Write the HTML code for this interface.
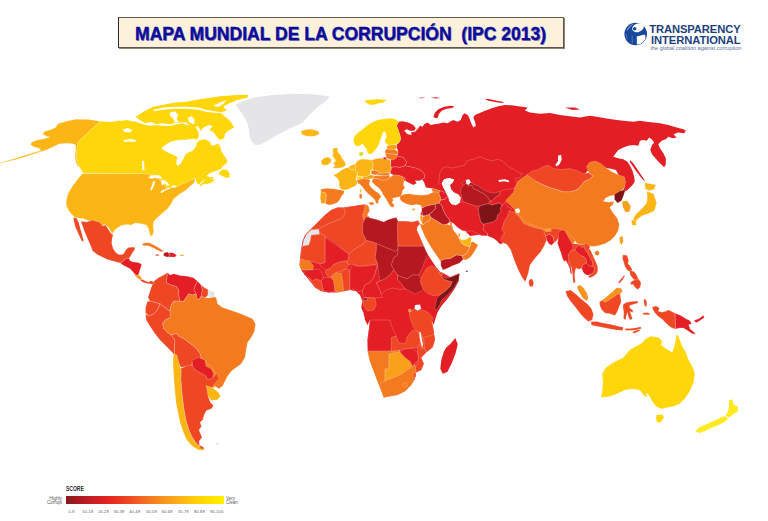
<!DOCTYPE html>
<html><head><meta charset="utf-8"><title>Mapa Mundial de la Corrupción (IPC 2013)</title>
<style>
html,body{margin:0;padding:0;background:#fff;}
body{width:768px;height:521px;position:relative;overflow:hidden;font-family:"Liberation Sans",sans-serif;}
#map{position:absolute;left:0;top:0;}
.b{stroke:#fff;stroke-opacity:.38;stroke-width:.5;stroke-linejoin:round}
#title{position:absolute;left:117.6px;top:17.3px;width:444px;height:28.6px;border:1px solid #5f574e;border-left-color:#2c2a28;background:#FDF1DB;box-shadow:1px 1px 0 #8a8378;}
#title span{position:absolute;left:0;right:0;top:6.1px;text-align:center;font-weight:bold;font-size:17.55px;line-height:20px;color:#0B0B9C;white-space:pre;text-shadow:.8px .8px 0 #8585b0;-webkit-text-stroke:.3px #0B0B9C;}
#logo{position:absolute;left:0;top:0;}
.lt{position:absolute;font-weight:bold;color:#1D3F7C;white-space:nowrap;transform-origin:0 0;line-height:1;}
#lg{position:absolute;left:66px;top:495.5px;width:157.6px;height:8.4px;background:linear-gradient(90deg,#8A191C 0%,#A81B20 8%,#C91F25 17%,#E2231F 26%,#EC3D22 36%,#F15A22 45%,#F47B20 54%,#F8981D 63%,#FBB117 72%,#FFCB08 81%,#FFDF00 90%,#FFF000 100%);}
.sm{position:absolute;color:#5a5a62;white-space:nowrap;line-height:1;font-size:4.5px;}
.tk{position:absolute;top:509.8px;width:20px;margin-left:-10px;text-align:center;color:#5c6274;font-size:4.3px;line-height:1;white-space:nowrap;}
</style></head><body>
<svg id="map" width="768" height="521" viewBox="0 0 768 521">
<polygon fill="#F47A20" points="200,355 214,362 219,378 214,388 205,382"/>
<polygon fill="#E31E24" points="455,178 520,168 532,198 518,216 500,232 470,236 450,215"/>
<polygon fill="#E31E24" points="505,165 535,165 535,190 510,190"/>
<polygon fill="#E31E24" points="493.3,211.7 516.7,211.7 510.8,231.7 503,242.5 493.3,236.7"/>
<polygon fill="#F47A20" points="513.3,209.2 530,216.7 553.3,225 566.7,225 580,233.3 573.3,243.7 563.3,240 553.3,235.8 543.3,235.8 530,231.7 520,225"/>
<polygon fill="#EF4623" points="560,233.3 572.5,243.7 585,244.7 590.3,250 595,260 595.8,270 591.7,274.2 586.7,275 580,266.7 573.3,266.7 570,266.7 561.7,255 558,243.3"/>
<polygon fill="#E31E24" points="302.5,241.2 305,235 310,230 315,225 320,220 325,215 331.2,210 337.5,207.5 343.8,207.5 352.5,206.2 360,205 365,204.5 368,205.5 369.5,210.5 367,215 370,218 376.2,219.5 383.8,222 388.8,219.5 396.2,217.5 398,221.2 405,221.2 412.5,222 418,220.5 420,223.8 417.5,226.2 416.8,230 419.8,236.8 422.5,243.2 425.8,250.8 429.2,256.8 432.5,261.8 435.8,266.8 440,271.8 443,273 450,277 459.2,273.2 458.8,281.2 453.8,290 447.5,298.8 441.2,306.2 437.5,312.5 435,320 433.8,325 431.2,320 432.5,325 433.8,332.5 435,340 432.5,347.5 426.2,352.5 421.2,357.5 423.8,363.8 421.2,370 416.2,372.5 415,378.8 411.2,385 405,391.2 397.5,395 390,396.2 383.8,397.5 380,387.5 377.5,380 373.8,370 370,360 368,350 367.5,340 368.8,330 370,320 367.5,325 365,320 363.8,313.8 361.2,307.5 362.5,301.2 360,295 356.2,291.2 350,290 343.8,291.2 336.2,292.5 328.8,292.5 321.2,291.2 315,287.5 310,281.2 305,275 301.2,270 299.5,265 300,257.5 301.2,248.8"/>
<polygon fill="#E31E24" points="398.3,122.5 396.7,125.8 398.3,130 400,135 400.8,139.2 399.2,142.5 396.7,144.7 397,148 398.3,151.7 397.5,154.7 396.7,155.8 403.3,157.5 406.7,161.7 405,165.8 410,166.7 416.7,168.3 421.7,170.8 425,175 424.2,178.3 419.2,180.8 419.2,178.3 422.5,179.7 424.2,182.5 425.8,187.5 431.3,188.3 435.8,189.2 440,190.8 445.8,192.5 445.8,191.7 443.3,187.5 441.7,183.3 444.2,179.2 449.2,178 454.2,179.7 452.5,182.5 450,185 450.8,189.2 454.2,192.5 457.5,193.3 460.8,189.2 463.3,185 461.7,183.3 465.8,180.8 470,181.3 473.3,184.2 478.3,185.8 483.3,189.7 490,192.5 495,193 499.2,191.7 503.3,190 510,189.2 515,188 517.5,183.8 515,178.8 520,177.5 522.5,172.5 527.5,176.2 535,178.8 543.8,178.8 550,180 555,180 565,181.2 575,180 585,175 586,172.5 588.5,170 596,170 603.5,167.5 611,168.8 616,170 618.5,175 622.2,181.2 624.8,183.8 624,188.8 621,192 623.3,192.5 627.5,190 630,187.5 632.5,185 634.7,181.7 634.2,176.7 632.5,170.8 630,165.8 627.5,161.7 623.3,159.2 618.3,158.3 613.3,156.7 615,154.2 618.3,150 623.3,147.5 628.3,145.8 633.3,145 638.3,145.8 640,140.8 643.3,140 646.7,140.8 649.2,137.5 651.7,139.2 654.2,142.5 652,145 650.3,149.7 652,154.2 656.3,159.2 660,163.3 664.2,167.3 665.8,164.2 665.8,158.3 663.3,153.3 660,148.3 658.3,144.2 661.7,140.8 665.8,139.2 668.3,136.7 672.5,138.3 676.7,137.5 673.3,134.2 678.3,132.5 684.2,133.3 685.8,130.8 683.3,129.2 676.7,127.5 668.3,125 660,123.3 653.3,122.5 646.7,121.7 640,120.8 633.3,121.7 623.3,120.8 615,119.7 605,118.3 596.7,116.7 590,115.8 580,117.5 570,116.2 560,115 550,113 540,113.8 530,112.5 525,110.5 527.5,107.5 518.3,106.3 511.7,105.3 505,105 498.3,106.3 491.7,108.3 485,110.8 479.2,113.3 475,115 473.3,117.5 475,121.7 475.8,125.8 473.3,127.5 471.7,124.2 470,120 468.3,115.8 465,113.3 462.5,115 460.8,120 457.5,121.7 453.3,120 450,121.7 447.5,123.3 443.3,122.5 438.3,123.7 434.2,124.2 430.8,125 427.5,122.5 424.2,124.2 422.5,126.7 420,125.8 418.3,128.3 415,131.7 410.8,132.5 411.7,135 407.5,134.2 404.2,130.8 406.7,129.2 410,130.8 414.2,130.8 415.8,128.3 413.3,125 408.3,122.5 402.5,121.3 398.3,121.7"/>
<polygon class="b" fill="#F47A20" points="503.2,197 508.4,193.8 513.7,189.6 515.8,185.4 517.9,181.2 522.2,178 527,174.8 531.7,178 535.9,181.2 542.2,184.3 549.6,187.5 557,189.6 563.3,191.7 570.7,191.7 577,189.6 581.3,185.4 584.4,181.2 589.7,179.1 592.9,175.9 588.7,172.7 586.5,166.4 589.7,162.2 595,161.1 600.3,163.2 605.5,167.4 611.9,171.7 618.2,174.8 624.5,176.9 625.6,182.2 624.5,187.5 620.3,191.7 615,194.9 609.8,195.9 605.5,198 603.4,201.2 608.7,202.3 614,201.2 612.9,204.4 609.8,207.5 612.9,212.8 617.2,218.1 619.3,224.4 618.2,230.8 615,236 610.8,240.3 605.5,243.4 599.2,245.5 592.9,246.6 586.5,245.5 581.3,244.5 577,243.4 573.9,239.2 570.7,235 567.5,231.8 563.3,232.9 559.1,229.7 552.8,230.8 546.4,229.7 540.1,227.6 533.8,225.5 527.4,223.4 523.2,219.2 519,214.9 515.8,210.7 512.7,207.5 508.4,203.3 504.2,200.2"/>
<polygon class="b" fill="#FFD60A" points="83.2,173.2 81.8,170.8 79.2,166.8 77,161.8 76.2,155 77,148.2 78.2,141.8 100,121.2 110,122 120,120.5 120,120.8 126.7,120 135.8,121.7 143.3,124.2 150,125.8 156.7,125 163.3,125.8 170,125.8 176.7,124.2 183.3,123.3 186.7,125 191.7,124.2 195.8,127.5 198.3,131.7 199.2,135.8 197,139.7 193.3,138.7 186.7,139.7 178.3,140 170,142 164.2,145.8 161.7,148.3 163.3,150 168.3,152.5 173.3,155 177.5,156.7 176.7,160 176.3,164.2 178.3,165.8 180.8,163.3 183.3,159.2 185,155 188.3,152.5 192.5,150.8 195.8,146.7 196.7,142.5 200,140 205,139.2 210,141.7 211.7,145.8 215,145 217.5,143.3 220,145.8 221.7,151.7 225,156.7 227.5,160.8 226.7,163.3 223.3,165.8 220.8,169.2 216.7,170.8 211.7,172.5 206.7,174.7 201.7,176.7 206.7,175.8 210.8,177.5 208.3,180 203.3,180.8 199.2,180 196.7,178 191.7,179.7 186.7,182 180,185 175,187.5 170,188.3 165.8,187.5 163.3,183.3 160.8,180 155,177.5 147.5,173.7 130,173.7 83.2,173.2"/>
<polygon class="b" fill="#FFD60A" points="204.2,181.7 208.3,180.8 213.3,179.2 215,180 211.7,182.5 206.7,184.2 203.3,183.3"/>
<polygon class="b" fill="#FFD60A" points="219.2,171.7 223.3,169.2 227.5,170 230,174.2 229.2,178 225,177.5 221.7,175.8 219.2,174.7"/>
<polygon fill="#FFD60A" points="135.8,116.7 143.3,111.7 153.3,106.7 163.3,104.7 175,102.5 186.7,101.7 195,100 206.7,98.3 220,96.3 233.3,95.3 247.8,94.7 247.8,97.5 236.7,100.3 228.3,103.7 223.3,106.7 226.7,110.8 220,112.5 225,116.7 230,120.8 234.2,127.5 229.2,130 225,133.7 224.2,138.3 220,140 216.7,136.7 213.3,131.7 208.3,130 203.3,133.3 200,130 198.3,125.8 193.3,128.3 190,125.8 186.7,122.5 177.5,122.5 170,124.2 161.7,123.3 155.8,124.2 151.7,122 145,123 140,120.3"/>
<polygon fill="#E5E5E8" points="235.8,104.5 244.5,100.5 254.5,97.5 272,95 292,93.8 312,94.2 329.5,96.2 325.8,101.2 319.5,105.5 313.2,111.2 308.2,116.2 303.2,122 297,125.5 290.8,128 282,132.5 274.5,136.2 267,141.2 260.8,144.5 255,145 251.5,141.2 249.5,136.2 249,130 247.5,123.8 245,118 241.5,113 238.2,108.8"/>
<polygon fill="#FFD60A" points="190,133.7 195,132.5 198,135 195.8,138.7 191.7,138"/>
<polygon fill="#FFD60A" points="195.4,178.7 198.3,176.1 201.9,173.7 205.5,172.2 209.1,173 207.7,175.1 204.8,177 203.4,179.4 201.2,182.3 198.7,184.8 196.9,183"/>
<polygon fill="#FFD60A" points="199.8,186.6 203.4,184.2 207.7,181.9 212,179.4 213.7,177.6 212,177 209.1,178.4 205.5,180.2 202.6,181.9 200.2,184.5"/>
<polygon class="b" fill="#EF4623" points="320,220 325,215 331.2,210 337.5,207.5 343.8,207.5 345.5,213.8 341.2,218.8 335,221.2 328.8,223.8 323.8,226.2 318.8,228.8 311.2,230 306.2,235 305,235 310,230 315,225"/>
<polygon class="b" fill="#E5E5E8" points="318.8,229.2 319.5,234.5 311.2,235 310.5,240 308.8,245 302.5,246.2 303.8,240 306.2,235 311.2,230"/>
<polygon class="b" fill="#EF4623" points="343.8,207.5 352.5,206.2 360,205 365,204.5 364.5,210 362.5,215 364,220 362.5,224 362.8,233.2 366.5,240.5 363.8,243.8 355,248.8 348.8,253.8 343.8,250 335,242.5 325,236.2 319.5,232.5 318.8,228.8 323.8,226.2 328.8,223.8 335,221.2 341.2,218.8 345.5,213.8"/>
<polygon class="b" fill="#F47A20" points="365,204.5 368,205.5 369.5,210.5 367,214.5 368,217 365.5,218.2 364,220 362.5,215 364.5,210"/>
<polygon class="b" fill="#B5181E" points="366.5,217 370,218 376.2,219.5 383.8,222 388.8,219.5 396.2,217.5 398,221.2 397.5,227.5 398,245 398,248.8 395.5,251.5 372.8,242.2 366.5,240.5 362.8,233.2 362.5,224 365.5,217.8"/>
<polygon class="b" fill="#EF4623" points="398,221.2 405,221.2 412.5,222 418,220.5 420,223.8 417.5,226.2 416.8,230 419.8,236.8 422.5,243.2 424,246.2 398,246.2 397.5,227.5"/>
<polygon class="b" fill="#B5181E" points="398,246.2 424,246.2 425.8,250.8 428,255 426.2,257.5 423.8,263.8 421.2,270 418.8,275 412.5,275 407.5,278.8 402.5,277.5 397.5,275 393.8,270 391.2,265 393.8,257.5 397.5,255 398,248.8"/>
<polygon class="b" fill="#B5181E" points="397.5,275 402.5,277.5 407.5,278.8 412.5,275 418.8,275 422.5,281.2 426.2,286.2 421.2,291.2 415,293.8 410,291.2 405,288.8 401.2,283.8 397.5,280"/>
<polygon class="b" fill="#B5181E" points="376.2,243.5 395.5,251.5 398,248.8 397.5,255 393.8,257.5 391.2,265 393.8,270 390,275 385,278.8 380,281.2 376.2,282.5 373.8,277.5 376.2,270 377.5,263.8 375,257.5 376.2,250"/>
<polygon class="b" fill="#EF4623" points="348.8,253.8 355,248.8 363.8,243.8 366.5,240.5 372.8,242.2 376.2,243.5 376.2,250 375,257.5 377.5,263.8 372.5,265 365,266.2 357.5,266.2 352.5,263.8 348.8,265 346.2,261.2 348.8,257.5"/>
<polygon class="b" fill="#E31E24" points="325,237.5 343.8,250.5 348.8,254.2 348,260.5 340,262 333.8,264.5 330,268.8 326.2,270 322.5,268 319.5,263.8 325,262.5"/>
<polygon class="b" fill="#EF4623" points="302.5,246.2 308.8,245 310.5,240 311.2,235 319.5,234.5 319.5,232.5 325,236.2 325,262.5 319.5,263.8 315,262.5 310,261.2 305,260.5 300.5,258.8 301.2,251.2"/>
<polygon class="b" fill="#F47A20" points="300.5,258.8 305,260.5 310,261.2 313.8,266.2 312.5,270 306.2,270 301.2,270 299.5,265"/>
<polygon class="b" fill="#E31E24" points="306.2,270 312.5,270 317.5,268.8 321.2,271.2 323.8,277.5 321.2,281.2 316.2,278.8 312.5,281.2 308.8,277.5 303.8,274.5"/>
<polygon class="b" fill="#EF4623" points="308.8,277.5 312.5,281.2 316.2,278.8 321.2,281.2 322.5,286.2 323.8,291.2 318.8,289.5 313.8,285 310,281.2"/>
<polygon class="b" fill="#E31E24" points="321.2,281.2 323.8,277.5 331.2,277.5 333.8,281.2 335,291.2 328.8,292.5 323.8,291.2 322.5,286.2"/>
<polygon class="b" fill="#EF4623" points="326.2,270 330,268.8 333.8,264.5 340,262 346.2,261.2 348.8,265 346.2,268.8 341.2,271.2 336.2,272.5 332.5,275 331.2,277.5 327.5,276.2 325,272.5"/>
<polygon class="b" fill="#F47A20" points="332.5,275 336.2,272.5 341.2,273 342.5,280 343.8,290 338.8,292.5 335,291.2 333.8,281.2 331.2,277.5"/>
<polygon class="b" fill="#EF4623" points="341.2,271.2 346.2,268.8 350,270 350,277.5 349.5,290 343.8,291.2 342.5,280 341.2,273"/>
<polygon class="b" fill="#E31E24" points="350,270 352.5,264.5 357.5,266.2 365,266.2 372.5,265 377.5,265 376.2,270 373.8,277.5 370,282.5 365,285 362.5,291.2 356.2,291.2 352.5,288.8 349.5,290 350,277.5"/>
<polygon class="b" fill="#E31E24" points="376.2,270 377.5,265 380,281.2 376.2,282.5 378.8,287.5 381.2,293.8 382.5,297.5 375,298 365,297.5 362.5,295 362.5,291.2 365,285 370,282.5 373.8,277.5"/>
<polygon class="b" fill="#E31E24" points="376.2,282.5 380,281.2 385,278.8 390,275 393.8,270 397.5,275 397.5,280 401.2,283.8 405,288.8 400,289.5 392.5,288 386.2,290 381.2,293.8 378.8,287.5"/>
<polygon class="b" fill="#EF4623" points="365,297.5 375,298 376.2,305 373.8,310 367.5,311.2 363.8,306.2 362.5,301.2"/>
<polygon class="b" fill="#B5181E" points="363.2,298 367.5,298 367.5,300.5 363.2,300.5"/>
<polygon class="b" fill="#E31E24" points="370,320 390,320 391.2,325 396.2,336.2 392.5,337.5 391.2,351.2 367.5,351.2 367.5,340 368.8,330"/>
<polygon class="b" fill="#F47A20" points="368,351.2 391.2,351.2 400,350 400,352 388.8,353.8 388.8,368.8 385,368.8 385,381.2 381.2,382.5 380,388 377,380.5 373.2,370.5 369.5,360.5 367.5,351.2"/>
<polygon class="b" fill="#F9A11B" points="388.8,353.8 400,352 405,357.5 410,361.2 412.5,366.2 407.5,370 402.5,373.8 397.5,376.2 391.2,378.8 385,381.2 385,368.8 388.8,368.8"/>
<polygon class="b" fill="#E31E24" points="400,352 405,348.8 412.5,348 417.5,352.5 418.8,358.8 415,363.8 412.5,366.2 410,361.2 405,357.5"/>
<polygon class="b" fill="#EF4623" points="391.2,337.5 396.2,336.2 398.8,342.5 405,343.8 407.5,336.2 412.5,330 417.5,331.2 421.2,336.2 420,343.8 417.5,347.5 412.5,348 405,348.8 400,350 391.2,351.2"/>
<polygon class="b" fill="#EF4623" points="418.8,333.8 422,332.5 423.8,340 424.5,347.5 422,348.8 420.5,342.5"/>
<polygon class="b" fill="#EF4623" points="417.5,347.5 420,343.8 422,348.8 424.5,347.5 426.2,352.5 421.2,357.5 423.8,363.8 421.2,370 416.2,372.5 415,367.5 418.8,358.8 417.5,352.5"/>
<polygon class="b" fill="#EF4623" points="422,332.5 432.5,325 433.8,332.5 435,340 432.5,347.5 426.2,352.5 424.5,347.5 423.8,340"/>
<polygon class="b" fill="#F47A20" points="381.2,382.5 385,381.2 391.2,378.8 397.5,376.2 402.5,373.8 407.5,370 412.5,366.2 415,363.8 416.2,372.5 415,378.8 411.2,385 405,391.2 397.5,395 390,396.2 383.8,397.5 380,387.5"/>
<polygon class="b" fill="#EF4623" points="413.2,373 415.8,373 415.8,377 413.2,377"/>
<polygon class="b" fill="#F47A20" points="400,195.8 404.2,194.2 408.3,193.8 415,194.7 421.7,195.3 428.3,194.5 432.5,192.5 435.8,190.8 438.3,192.5 440,195.8 440.8,200 439.2,203 435,204.2 430.8,205 425.8,206.3 421.7,208.3 420.8,205.3 416.7,204.5 411.7,205.3 406.7,204 402.5,202 400,199.2"/>
<polygon class="b" fill="#F47A20" points="396.7,190.8 400.8,190.3 402.5,192.5 399.2,194.2 396.7,193.3"/>
<polygon class="b" fill="#F9A11B" points="411.7,209.2 415,208.3 415.3,210 412.5,210.5"/>
<polygon class="b" fill="#B5181E" points="421.7,208.3 425.8,206.3 430.8,205 435,204.2 435.8,208.3 432.5,211.7 429.2,214.2 425.8,215.8 422.5,215.8 421.7,211.7"/>
<polygon class="b" fill="#E31E24" points="420.5,212.5 422.2,212 422.2,215.3 420.8,215.7"/>
<polygon class="b" fill="#B5181E" points="435,204.2 439.2,203 442,205.8 443.3,210 445.8,215 449.2,219.2 450,222 446.7,224.2 443.3,225 439.2,222.5 435,220 430.8,217.5 429.2,214.2 432.5,211.7 435.8,208.3"/>
<polygon class="b" fill="#F47A20" points="449.7,222.5 452,223 452,225.3 450,225"/>
<polygon class="b" fill="#F47A20" points="422.5,216.7 425.8,215.8 429.2,214.2 430.8,217.5 429.2,220.8 425.8,222.5 423.3,225 421.7,222.5"/>
<polygon class="b" fill="#F9A11B" points="420,215.8 422.2,215.8 422.5,217.5 422,220.8 421.3,223.3 420.3,220"/>
<polygon class="b" fill="#F47A20" points="419.7,223.3 423.3,225 425.8,222.5 429.2,220.8 430.8,217.5 435,220 439.2,222.5 443.3,225 446.7,224.2 450,225 452,225.3 453.3,230 456.7,234.2 459.2,238.3 461.7,243.3 465.8,245.8 470,246.7 468.3,250.8 465.8,254.2 462,255.8 456.7,255 450,258.7 444.2,259.2 440.8,260.8 440.8,261.7 437.5,256.7 433.3,250.8 429.2,244.2 425,236.7 421.7,229.2"/>
<polygon class="b" fill="#B5181E" points="440.8,260.8 444.2,259.2 450,258.7 456.7,255 462,255.8 463.3,259.2 459.2,263.3 452.5,265.8 447.5,268.3 443,270 440.8,265.8"/>
<polygon class="b" fill="#F47A20" points="462,255.8 465.8,254.2 468.3,250.8 470,246.7 470.8,242.5 473.3,241.7 478,245 475.8,249.2 473.3,253.3 470,257.5 465.8,260 463.3,259.2"/>
<polygon class="b" fill="#FBB615" points="459.2,238.3 462.5,240 466.7,239.2 470,236.7 471.3,238.3 470.8,242.5 470,246.7 465.8,245.8 461.7,243.3"/>
<polygon class="b" fill="#F9A11B" points="458,233.7 459.7,233 460.3,236.3 458.7,237.5"/>
<polygon class="b" fill="#EF4623" points="420,281.7 422.5,275 426.7,268.3 431.7,265.8 435.8,268.3 439.2,272.5 440.8,275 444.2,279.2 448.3,280.8 452.5,281.7 450,286.7 445.8,290.8 440,295 433.3,295.8 427.5,293.3 423.3,289.2"/>
<polygon class="b" fill="#7E1416" points="440.8,275 445.8,278.3 451.7,277 459.7,273.7 458.7,279.2 455.8,285 451.7,290.8 446.7,295.8 441.7,300 439.7,305 436.7,310.3 434.8,308.3 435.7,303.3 437,298.3 440,295 445.8,290.8 450,286.7 452.5,281.7 448.3,280.8 444.2,279.2"/>
<polygon class="b" fill="#EF4623" points="439.7,271.7 442,272.5 442.5,275 440.8,275.3 439.3,273.7"/>
<polygon fill="#7E1416" points="465.8,270.8 467.7,270.8 467.7,271.8 465.8,271.8"/>
<polygon class="b" fill="#EF4623" points="410,310.8 414.2,309.2 417.5,310.8 422.5,309.7 428.3,312.5 432.5,317.5 432,322.5 433.3,327.5 434.2,333.3 431.7,335.3 426.7,336.7 422.5,337.5 421.3,334.2 419.2,331.7 415.8,330 413.3,327.5 411.7,322.5 410,318.3 409.2,314.2"/>
<polygon fill="#E31E24" points="455.3,338 457.7,344.2 455.7,353 451.7,363.3 447.3,372 442.8,373.8 440.3,368.7 441.3,360 443.8,351.7 446.3,347.5 450.5,343.7 453.7,340"/>
<polygon class="b" fill="#F6921E" points="408.3,309.3 410.8,309 411.3,311.7 408.8,312.2"/>
<polygon class="b" fill="#F47A20" points="402.5,383.8 406.2,382.5 407.5,385.5 404,387.5"/>
<polygon class="b" fill="#FBB615" points="100,121.2 88.8,119.5 76.2,119.2 66.2,121.2 58,123.8 55.5,127.5 51.2,129.5 45,131.2 42.5,133.8 46.2,136.2 50,137 42.5,139.2 37.5,140 32,142 30.5,144.5 33.8,147 38.8,148 41.2,150.5 32.5,153 22.5,156 12.5,159.2 0,162.8 0,163.2 15,159.8 27.5,156 40,152 47.5,149.5 53.8,146.5 58.8,144 66.2,143.2 72.5,143.8 75.8,145 75.5,151.2 75,155.5 75.8,161.8 77.8,166.8 79,166.5 77,161.8 76.2,155 77,148.2 78.2,141.8"/>
<polygon class="b" fill="#FBB615" points="82.5,173.8 147.5,173.7 155,177.5 160.8,180 163.3,183.3 165.8,187.5 170,188.3 175,187.5 180,185 186.7,182 191.7,179.7 195.4,178.7 194,183 189.7,186.6 186.2,190 180,193.8 173.8,198.8 171.2,203.8 167.5,208.8 162.5,213 157.5,217.5 153.8,221.2 153.1,226.2 153.8,231.2 152.5,235.6 150.6,236.2 149.4,232.5 148.1,227.5 146.2,225 141.2,223.8 135,223 131.2,225 126.2,224.4 121.2,225.6 116.2,228.8 112.5,233 113.8,235 111.2,232.5 108.8,227.5 105,224.5 101.2,225.5 97.5,221.2 90,221.2 83.8,218.8 75,217.5 71.2,213.8 69,211 66.7,206.7 66.2,202.5 66.7,198.3 67.8,194.5 70,190 72.5,186 75.8,181.7 79,177.5"/>
<polygon class="b" fill="#EF4623" points="153.8,281.2 158.8,277.5 163.8,275 167.5,272.5 167,277.5 166.2,282.5 171.2,285 176.2,286.2 178.8,290 178.8,295 180,301.2 173.8,301.2 171.2,305 170,311.2 165,307.5 160,303.8 155,302.5 150,301.2 148,297.5 151.2,287.5"/>
<polygon class="b" fill="#E31E24" points="167.5,272.5 170,275 173.8,273.8 180,275.5 187.5,276.2 193.8,278 197.5,281.2 195.5,285 193.8,290 196.2,293.8 192.5,295 188.8,293.8 186.2,297.5 183.8,301.2 180,301.2 178.8,295 178.8,290 176.2,286.2 171.2,285 166.2,282.5 167,277.5"/>
<polygon class="b" fill="#E31E24" points="197.5,281.2 201.2,285 202.5,290 201.2,296.2 198.8,300 196.2,297.5 196.2,293.8 193.8,290 195.5,285"/>
<polygon class="b" fill="#EF4623" points="201.2,285 205,288 208,289.5 208,295 205,298 201.2,296.2 202.5,290"/>
<polygon class="b" fill="#E5E5E8" points="208,289.5 212.5,291.2 215,293 213.8,297 210,298 208,295"/>
<polygon class="b" fill="#F47A20" points="180,301.2 183.8,301.2 186.2,297.5 188.8,293.8 192.5,295 196.2,293.8 196.2,297.5 198.8,300 201.2,296.2 205,298 210,298 213.8,297 216.2,297.5 217.5,303.8 222.5,307.5 230,310 237.5,312.5 245,315.5 252.5,318.8 255.5,323.8 254.5,331.2 251.2,337.5 247.5,342.5 246.2,350 245,357.5 241.2,363.8 236.2,367.5 231.2,371.2 227.5,376.2 225,381.2 222.5,386.2 218.8,388.8 215,386.2 211.2,383.8 213.8,380 216.2,375 213.8,370 211.2,366.2 207.5,364.5 205,360 201.2,358.8 200,353.8 197.5,350 193.8,346.2 188.8,342.5 183.8,338.8 178.8,336.2 176.2,333.8 171.2,335 167.5,332.5 163.8,328.8 162.5,323.8 165,320 170,317.5 170,311.2 171.2,305 173.8,301.2"/>
<polygon class="b" fill="#EF4623" points="150,301.2 155,302.5 160,303.8 157.5,310 153.8,313.8 148.8,316.2 145.5,312.5 145.5,307.5 147.5,301.2"/>
<polygon class="b" fill="#EF4623" points="160,303.8 165,307.5 170,311.2 170,317.5 165,320 162.5,323.8 163.8,328.8 167.5,332.5 171.2,335 175,340 174.5,347.5 174.5,355 171.2,351.2 166.2,346.2 160,340 155,333.8 150,326.2 146.2,320 145.5,313.8 148.8,316.2 153.8,313.8 157.5,310"/>
<polygon class="b" fill="#EF4623" points="171.2,335 176.2,333.8 178.8,336.2 183.8,338.8 188.8,342.5 193.8,346.2 197.5,350 200,353.8 201.2,358.8 196.2,358.8 192.5,362.5 191.2,366.2 186.2,366.2 181.2,367.5 178.8,363.8 176.2,357.5 174.5,355 174.5,347.5 175,340"/>
<polygon class="b" fill="#E31E24" points="192.2,360 198.5,357.5 204.8,360 206,366.2 211,368.8 213.5,373.8 212.2,378.8 207.2,380 206,376.2 201,373.8 194.8,370 192.2,366.2"/>
<polygon class="b" fill="#FBB615" points="173.5,353.8 177,355 179.2,363.8 181.2,370 181,380 181.8,390 182.8,400 184.2,410 186,420 189,430 192.2,437 196,443 199.8,446.2 203.5,448 204,450.5 198,449.8 191.8,445.8 186.5,439.5 183,431.2 180,422.5 178,412.5 176,402.5 175,392.5 174.2,382.5 173.5,372.5 173,362.5"/>
<polygon class="b" fill="#EF4623" points="180.5,368.8 186,366 192.2,365 194.8,369.5 201,373.2 206,375.8 207.2,379.5 212.2,378.2 217.2,373.2 219,378.8 213.5,385 211,390 208.5,393 208.5,397.5 210.5,402.5 213.5,405.5 211.5,408.8 206.5,410.5 204,415 203,419.5 200,422.5 201.5,426.2 199,430 200.5,433.8 202,437.5 199,441.2 199.8,446.2 196,443 192.2,437 189,430 186,420 184.2,410 182.8,400 181.8,390 181,380 181.2,370"/>
<polygon class="b" fill="#EF4623" points="199,445 202.2,446.5 205,448.5 201,449"/>
<polygon class="b" fill="#FBB615" points="206,385.5 212.2,387.5 218.5,392.5 220.5,396.2 217.2,400 211.5,400.5 208,396.2 207.2,391.2"/>
<polygon class="b" fill="#EF4623" points="80.8,221.3 86.7,222 92.5,220.3 99.2,222 102.5,225.8 105.8,225.3 108.3,229.2 110.8,233.3 113,235 112,239.2 111.7,243.3 113,248.3 115.8,252.5 119.2,254.7 123.3,254.2 125.8,250 128.3,247.5 134.2,247 135,249.2 132.5,252.5 130.8,255.8 129.2,258.3 126.7,258.3 124.2,260 122.5,261.7 120.3,263 116.7,262 111.7,260.8 106.7,259.2 101.7,256.7 96.7,254.2 92.5,250.8 91.3,247.5 89.2,242.5 86.7,236.7 84.2,230.8 82.5,225.8"/>
<polygon class="b" fill="#EF4623" points="73.3,217.5 76.7,218.3 78.7,222.5 80.3,228.3 81.7,233.3 83.3,239.2 83.7,242 81.7,240.8 79.7,236.7 77.5,231.7 75.3,226.7 74,221.7"/>
<polygon class="b" fill="#E31E24" points="120.3,263 122.5,261.7 124.2,260 126.7,258.3 129.2,258.3 130,260.8 133.3,262 138.3,262.5 141.7,264.2 140.8,267.5 139.7,270.8 138.7,274.2 137,275.8 134.7,274.2 132.5,271.3 130,268.7 126.7,267 123.3,265.3"/>
<polygon class="b" fill="#F9A11B" points="134.7,274.2 137,275.8 138.7,274.2 140.8,276.7 142,279.2 140,280 137.5,278 135.3,276.3"/>
<polygon class="b" fill="#EF4623" points="140,280 142,279.2 145,280.8 148.3,282 151.3,280.8 153.3,281.7 155,283.7 152.5,284.2 149.2,283.7 145.8,283.3 142.5,282"/>
<polygon class="b" fill="#F47A20" points="141.7,244.5 145,242.8 149.2,242.7 153.3,244.7 157.5,247 161.7,249.7 164.2,251.3 160.8,251.7 156.7,249.7 152.5,247.5 148.3,245.8 144.2,245.8"/>
<polygon class="b" fill="#B5181E" points="163.7,253 167.5,252 169.2,253.7 169.2,256.7 166.7,257 163.7,255.8"/>
<polygon class="b" fill="#E31E24" points="169.2,252.5 173.3,253 176.7,255 175,257 169.2,257"/>
<polygon class="b" fill="#EF4623" points="155,254.7 158.3,254.2 159.7,255.3 156.7,256"/>
<polygon class="b" fill="#F9A11B" points="180.3,254.7 183.7,254.7 183.7,256 180.3,256"/>
<polygon fill="#E5E5E8" points="215.5,443 219,442.5 219.5,444.2 216,444.8"/>
<polygon fill="#E31E24" points="433.3,116.7 435,112.5 438.3,109.2 444.2,106.7 450,105.8 454.2,106.3 452.5,108 446.7,108.7 441.7,110.8 438.7,114.2 438,117.5 435.8,118.3"/>
<polygon fill="#E31E24" points="484.2,98.7 490,99.2 496.7,100.8 504.2,102 501.7,103 495,102 488.3,100.8"/>
<polygon fill="#E31E24" points="565,107.5 575,107.5 580,109.5 572.5,110"/>
<polygon fill="#E31E24" points="630,160 633.3,163.3 636.7,168.3 640,173.3 643.3,178.3 645,180.8 643,180 639.7,175.8 635.8,170.8 632.5,165.8 629.7,161.7"/>
<polygon class="b" fill="#EF4623" points="527,174.8 531.7,171.2 538,169.6 543.3,166.4 548.5,165.3 553.8,168.5 561.2,169.6 569.7,168.5 577,170.6 583.4,173.8 588.7,172.7 592.9,175.9 589.7,179.1 584.4,181.2 581.3,185.4 577,189.6 570.7,191.7 563.3,191.7 557,189.6 549.6,187.5 542.2,184.3 535.9,181.2 531.7,178"/>
<polygon class="b" fill="#7E1416" points="614.4,194.5 619.9,191.1 625.4,189.8 623.7,195.3 621.6,200.8 617.4,202.9 614.6,199.5"/>
<polygon class="b" fill="#F9A11B" points="622,201.6 627.1,200.4 630.9,206.5 629.6,211.8 625.4,212.2 622.8,207.1"/>
<polygon class="b" fill="#FBB615" points="644.7,182.7 650,183.7 655.8,184.7 654.2,189.2 649.2,190.8 645.3,188.7"/>
<polygon class="b" fill="#FBB615" points="646.7,191.3 653.7,193.8 656.6,202.9 654.5,210.7 648.8,213.5 642.5,215.6 638.3,218.5 635.1,221.9 633,219.2 636.1,213.9 642.5,208 646.7,202.9 647.3,197"/>
<polygon class="b" fill="#FBB615" points="631.3,219.8 636.1,221.1 636.1,225.5 632.1,224.9"/>
<polygon fill="#FFD60A" points="601,397.5 602.2,392.5 603,382.5 602.2,373.8 606,367.5 613.5,362.5 623.5,357.5 629.8,350 636,346.2 641,343.8 646,338.8 651,336.2 658.5,337.5 662.2,341.2 661,345 666,348.8 672.2,352.5 674.8,345 676,337.5 677.2,333.8 679.8,340 682.2,346.2 686,352.5 688.5,360 692.2,366.2 694.8,373.8 693.5,382.5 689.8,391.2 684.8,398.8 679.8,403.8 673.5,406.2 667.2,407.5 661,408.8 656,406.2 652.2,401.2 649.8,396.2 646,392.5 647.2,397.5 643.5,395 639.8,390 632.2,388.8 624.8,390 617.2,393.8 609.8,396.2"/>
<polygon fill="#FFD60A" points="656.5,415 662.2,414.5 664,417.5 661,422 657.2,422.5 656,418.8"/>
<polygon fill="#FFE920" points="729,400 732.2,399.5 734,405 738.5,407 737.2,412 733,414.5 729,417.5 725.5,415.5 728,411.2 729,406.2"/>
<polygon fill="#FFE920" points="725.5,416.2 728,418.8 724,422.5 718.5,425 712.2,427.5 706,430.5 699.8,433 695.5,431.8 698,428 704.8,425 711,422 717.2,419.5 721.5,417"/>
<polygon class="b" fill="#E31E24" points="439.2,203 440.8,200 445,199.2 448.3,195.8 449.2,200.8 451.7,204.2 455.8,205.3 460,202.5 463.3,201.7 469.2,203.7 475,205.8 478.3,209.2 479.2,215 480.8,221.7 484.2,225 483.3,230 487.5,233.3 487.5,235.8 481.7,235.8 476.7,233.3 471.7,230.8 468.3,231.3 462.5,230.8 457.5,227.5 453.3,223.3 450,222 449.2,219.2 445.8,215 443.3,210 442,205.8"/>
<polygon class="b" fill="#E31E24" points="438.3,192.5 440,190.8 445.8,192.5 447.5,195.8 448.3,195.8 445,199.2 440.8,200 440,195.8"/>
<polygon class="b" fill="#F47A20" points="431.3,188.3 435.8,189.2 440,190.8 439.2,193 435.8,192 432.5,191.7"/>
<polygon class="b" fill="#E31E24" points="483.3,224.2 488.3,223 493.3,221.7 496.7,219.2 497.5,215 500.8,211.7 500,208.3 501.7,205.8 505,202.5 507.5,206.7 511.7,208.3 509.2,210.8 510,215 506.7,219.2 503.3,223.3 503.3,228.3 504.2,235 503,243.3 500,244.2 496.7,240.8 493.3,238.3 490,237 487.5,235.8 487.5,233.3 483.3,230 484.2,225 480.8,221.7"/>
<polygon class="b" fill="#E31E24" points="490,200.8 492,200.8 493.7,198.7 496.7,196.3 500.3,194.2 499.2,191.7 503.3,190 510,189.2 515,188 513.3,192.5 510,195.8 506.7,199.2 505,202.5 501.7,205.8 500,203 496.7,203.7 491.7,205"/>
<polygon class="b" fill="#B5181E" points="460.8,189.2 463.3,185 465.8,183.3 468.3,185.8 471.7,185 473.3,188.3 478.3,190.8 483.3,193.3 487.5,196.7 490,200.8 488.3,203.7 484.2,204.7 480,205.8 475,205.8 469.2,203.7 463.3,201.7 461.7,197.5 460.8,193.3"/>
<polygon class="b" fill="#B5181E" points="461.7,183.3 465.8,180.8 470,181.3 473.3,184.2 478.3,185.8 483.3,189.7 490,192.5 495,193 499.2,191.7 500.3,194.2 496.7,196.3 493.7,198.7 492,200.8 490,200.8 487.5,196.7 483.3,193.3 478.3,190.8 473.3,188.3 471.7,185 468.3,185.8 465.8,183.3 463.3,185"/>
<polygon class="b" fill="#7E1416" points="478.3,209.2 480,205.8 484.2,204.7 488.3,203.7 491.7,205 496.7,203.7 500,203 501.7,205.8 500,208.3 500.8,211.7 497.5,215 496.7,219.2 493.3,221.7 488.3,223 483.3,224.2 480.8,221.7 479.2,215"/>
<polygon fill="#E31E24" points="417.5,98 421.7,97.5 425.8,97.8 421.7,98.3"/>
<polygon fill="#E31E24" points="430.8,97.7 435.8,97.3 440.8,98 435.8,98.5"/>
<polygon class="b" fill="#F9A11B" points="619.7,236.7 622.7,236.2 623.3,241.2 621.7,245 619.7,242.3"/>
<polygon class="b" fill="#F6921E" points="577,286.2 580.3,285 583.8,288.3 586.7,292.8 588.3,297.8 586.7,301 583,298.3 580.3,294 578,290"/>
<polygon class="b" fill="#EF4623" points="622.7,255 627,255.3 628.7,260.3 628,263.7 630,265.7 632.2,269.5 630.5,272 627.5,270.3 625,266.7 623.7,262.3 622.5,258.7"/>
<polygon class="b" fill="#EF4623" points="629.7,270.7 633.7,271.3 636.7,275 638.3,279 636.3,281.2 633,278.7 630.3,275"/>
<polygon class="b" fill="#EF4623" points="633.7,280.3 638.7,279 641,282.8 640.3,287.3 637.5,289.5 634.7,287 633,284.3 630.5,285 631,281.7"/>
<polygon class="b" fill="#EF4623" points="618.3,282.3 621.7,278 624.2,275.2 624.8,276.3 622.2,280.2 619.3,283.5"/>
<polygon class="b" fill="#EF4623" points="565.4,291.3 570.5,290 576.3,294.6 581.8,299.6 587.2,303.8 591.4,308.4 593.5,314.3 592.2,320.1 588.2,321.4 583.4,317.2 579.2,312.2 575.1,306.8 570.9,301.7 567.1,296.3"/>
<polygon class="b" fill="#EF4623" points="591,321.6 596.6,321.4 602.9,322.9 610.2,324.3 617.5,326 623.2,327.3 622.8,330.4 616.5,330 609.2,328.7 601.8,327.3 595.6,326 591.4,325"/>
<polygon class="b" fill="#EF4623" points="624.9,328.5 630.1,328.5 635.3,327.9 640.5,326.8 641.6,328.5 636.4,330 630.1,330.6 625.3,330.2"/>
<polygon class="b" fill="#EF4623" points="632.2,332.1 638.5,329.4 640.5,330.2 634.3,333.5"/>
<polygon class="b" fill="#EF4623" points="599.4,301.9 602.5,300 606.2,298.8 610,295.6 613.8,292.5 616.9,288.1 621.2,288.8 622.5,291.2 620,293.8 620.6,297.5 621.2,301.9 619.4,306.2 617.5,311.2 615,315.6 610,313.8 605,313.1 601.9,310 600,306.2"/>
<polygon class="b" fill="#F6921E" points="602.5,300 606.2,296.9 610,293.8 613.8,290.6 616.9,287.5 621.2,288.5 622.5,291.2 620,293.8 616.9,294.4 613.8,296.9 610,299.4 606.2,301.9 603.8,301.9"/>
<polygon class="b" fill="#EF4623" points="623.1,304.4 626.2,302.5 631.2,301.5 637.5,301 638.1,303.1 633.1,304.4 629.4,305.6 630,308.1 633.1,310.6 632.5,312.5 630,311.2 631.2,315 632.5,318.8 630,320 628.5,316.9 627.5,312.5 626.2,316.2 625.6,320 623.5,318.8 623.8,312.5 623.1,308.1"/>
<polygon class="b" fill="#EF4623" points="643.7,299.6 645.8,299.2 647,303.4 646.2,307 644.5,305.9 644.1,302.8"/>
<polygon class="b" fill="#EF4623" points="642.6,313 646.8,312.6 650,313.5 649.5,314.7 645.8,314.7 642.8,314.3"/>
<polygon class="b" fill="#EF4623" points="652.1,307 656.2,305.9 659.4,308 658.3,311.2 662.5,312.2 668.8,310.1 675.1,313.2 675.5,328.9 671.9,327.9 668.8,325.8 665.6,322.7 662.5,319.5 658.3,316.4 655.2,313.2 653.1,310.1"/>
<polygon class="b" fill="#E31E24" points="675.1,313.2 680.3,315.3 685.5,318.5 689.7,320.6 691.8,323.7 688.7,324.7 690.1,328.9 693.9,332.1 696,334.2 691.8,333.5 687.6,330.6 683.4,327.9 679.2,327.9 675.5,328.9"/>
<polygon class="b" fill="#E31E24" points="693.9,320.6 699.1,318.5 703.3,315.3 704.4,317.4 700.2,320.6 696,322.7"/>
<polygon class="b" fill="#EF4623" points="509.2,210.8 514.2,212.5 519.2,216.7 523.3,223.3 533.3,227.5 544.2,230 544.2,233.3 545.8,235.8 546.7,240 544.2,245.8 540.8,251.7 535,258.3 530,265 528.3,273.3 525.3,281.7 522.5,278.3 518.3,270 514.2,260 510.8,250 506.7,244.2 503.3,243 500.8,239.2 502.5,235 505,233.3 501.7,230 503.3,225 505,220 507.5,215.8"/>
<polygon class="b" fill="#EF4623" points="544.2,230 553.3,228.3 560,229.2 563.3,231.7 562.5,235.8 558.3,238.3 555.8,241.7 554.2,242.5 553.3,237.5 550,234.2 545.8,235.8 544.2,233.3"/>
<polygon class="b" fill="#E31E24" points="545.8,235.8 550,234.2 553.3,237.5 554.2,242.5 551.7,245.3 548.7,243.7 546.7,240"/>
<polygon class="b" fill="#F9A11B" points="545.3,229.2 550.8,228.7 551.3,231.3 545.8,231.7"/>
<polygon class="b" fill="#EF4623" points="529.2,279.7 532,278.7 533.7,282.5 533,286.3 530,286.8 528.7,283.3"/>
<polygon class="b" fill="#E31E24" points="558.3,232.5 561.7,230 565,230.8 567.5,235.8 570,240 572.5,244.2 573.3,248.3 570.8,250.8 568.3,255 569.2,259.2 568.3,262.5 570.8,266.7 572,273.3 570.8,274.2 569.7,268.3 567.5,263 565.8,260 564.2,261.7 562.5,258.3 561.3,253.3 559.2,248.3 557.5,243.3 558.3,238.3"/>
<polygon class="b" fill="#EF4623" points="568.3,254.3 571.7,250.2 575,250.2 577.5,252.7 580,255.2 584.2,256.8 586.7,260.2 585.8,263.5 582.5,265.2 580.8,268.5 578.3,269.3 576.2,267.7 575,271 574.6,275.2 575,279 575.4,282.7 573.3,282.7 572.9,279 572.5,273.5 571.7,268.5 570,263.5 568.3,259.3"/>
<polygon class="b" fill="#E31E24" points="575,250.2 576.7,246.8 580,245.2 581.7,247.7 584.2,246.8 585,249.3 587.5,252.7 589.2,256 591.7,260.2 592.9,263.5 592.1,266.4 589.2,266 586.7,263.5 586.7,260.2 584.2,256.8 580,255.2 577.5,252.7"/>
<polygon class="b" fill="#EF4623" points="584.2,243.5 587.5,244.3 590,246.8 588.8,249.8 587.9,251.8 590,254.3 593.3,258.1 595.8,261.8 597.5,266 597.9,270.2 596.7,273.5 593.3,276.4 589.2,277.7 588.3,276 591.7,273.9 594.2,271 594.6,267.7 592.9,263.5 591.7,260.2 589.2,256 587.5,252.7 585,249.3 584.2,246.8"/>
<polygon class="b" fill="#E31E24" points="582.5,265.2 585.8,263.5 586.7,263.5 589.2,266 592.1,266.4 594.6,267.7 594.2,271 591.7,273.9 588.3,275.2 585,274.3 582.9,271.8 582.1,268.5"/>
<polygon class="b" fill="#F47A20" points="595,251.4 597.1,250.6 599.2,251.8 599.3,253.9 597.9,255.6 595.8,255.3 594.6,253.5"/>
<polygon class="b" fill="#FBB615" points="300.8,131.2 305.8,129.5 312,129.2 318.2,131.2 319.5,133.8 314.5,136.2 307,136.2 302,134.5"/>
<polygon fill="#FFD60A" points="364.2,100.8 370,99.7 378.3,99.2 386.7,100 383.3,102.5 378.3,103.3 373.3,105 368.3,104.2"/>
<polygon class="b" fill="#FFD60A" points="353.3,141.3 354.2,136.7 357.5,133 362.5,129.2 366.7,125.8 371.7,122.5 377.5,120 385,118.7 391.7,118.3 396.7,119.7 398.3,122.5 396.7,125.8 398.3,130 400,135 400.8,139.2 399.2,142.5 395.8,144.2 390.8,145.3 386.7,144.5 384.7,141.3 386.3,136.7 385.8,133 384.2,131.3 382.7,133 381.3,137.5 379.7,141.7 378.3,145.8 375.8,149.2 373.3,152.5 370,154.5 367.5,152.5 366.7,149.2 364.7,147 362.5,143.7 360.8,145 357.5,146.7 355,145"/>
<polygon class="b" fill="#D9E021" points="359.2,152.5 361.7,151.7 363.7,153 363,155.3 360.3,156.3 359.2,154.7"/>
<polygon class="b" fill="#FBB615" points="321.3,160.8 324.2,158 328.3,157 331.3,159.2 330.8,162.5 327.5,165 323.3,165.3 321.3,163.3"/>
<polygon class="b" fill="#FBB615" points="332.5,149.2 335,147.7 338,148.3 337.5,151.7 340,154.2 342,158.3 344.7,161.7 345.8,165 343.7,167 340,168 335,168.3 332.5,167.5 335.3,165.8 333.3,163.3 335.8,160.8 334.2,158.3 332.5,155.8 333.3,152.5"/>
<polygon class="b" fill="#FBB615" points="333.3,175 337.5,173.3 340.8,170.8 345,168.3 348.3,167.5 350.8,169.2 355,170 357.5,172.5 356.7,175.8 355.8,179.2 357.5,182.5 355.8,185.8 351.7,187.5 348.3,189.2 344.2,190 340.8,189.2 339.2,185.8 339.2,181.7 337.5,178.3"/>
<polygon class="b" fill="#FBB615" points="360,189.2 361.3,189.2 361.3,192.5 360,192.5"/>
<polygon class="b" fill="#FBB615" points="348.3,167.5 351.7,165 355,164.2 355.8,167.5 355,170 350.8,169.2"/>
<polygon class="b" fill="#FBB615" points="355,164.2 357.5,160.8 360.8,159.2 365.8,159.2 371.7,160 373.3,165 372.5,169.2 370,170.8 370.8,174.2 366.7,176.7 362.5,176.7 357.5,175.8 357.5,172.5 355,170 355.8,167.5"/>
<polygon class="b" fill="#FFD60A" points="356.7,176.3 361.7,176.7 362.5,178.7 359.2,179.7 356.7,178.7"/>
<polygon class="b" fill="#F9A11B" points="362.5,176.7 366.7,176.7 370.8,174.7 374.2,175.8 373.3,178.3 368.3,179.2 363.3,179.2"/>
<polygon class="b" fill="#F47A20" points="370.8,170.8 374.2,170 378.3,171.3 380,173.3 375.8,175 371.7,174.2"/>
<polygon class="b" fill="#F9A11B" points="371.7,160 378.3,158.3 385,158.3 390,160 390.8,165 391.3,169.2 390,172.5 385,173 380,173.3 378.3,171.3 374.2,170 372.5,169.2 373.3,165"/>
<polygon class="b" fill="#F47A20" points="380,173.3 385,173 390,173 389.2,175 384.2,175.8 380,175.3 375.8,175"/>
<polygon class="b" fill="#F47A20" points="374.2,175.8 378.3,175.8 384.2,175.8 389.2,175 390,177.5 386.7,180 381.7,180.3 378.3,178.7 373.3,178.3"/>
<polygon class="b" fill="#F47A20" points="356.7,179.7 359.2,179.7 362.5,178.7 368.3,179.2 370.3,180.8 369,184.2 371.2,187.5 374.5,190.5 378.7,193.3 381.2,196.7 379.5,198.7 378.3,200.8 378.7,203 376,203.7 375,200 372,197 368.7,194.2 365.3,190.8 362.5,187 360.3,184.5 358,183.3"/>
<polygon class="b" fill="#F47A20" points="368.3,202.5 373.3,202 374.2,204.2 370.8,205.3"/>
<polygon class="b" fill="#F47A20" points="359.2,194.2 361.7,193.7 362,198.3 359.7,198.7"/>
<polygon class="b" fill="#F47A20" points="320.8,189.2 326.7,188.3 333.3,188.7 340,190 344.2,190.8 343.7,193.7 341.7,195.8 340,199.2 337.5,202.5 333.3,204.2 329.2,205 326.7,204.2 325,203.3 325.8,200 326.3,195 325,192.5 320.8,191.7"/>
<polygon class="b" fill="#F9A11B" points="320.8,191.7 325,192.5 326.3,195 325.8,200 325,203.3 321.3,203.7 320.3,198.3"/>
<polygon class="b" fill="#F47A20" points="373.3,178.3 378.3,178.7 381.7,180.3 386.7,180 390,177.5 393.3,175 398.3,175 402.5,176.7 404.2,180.8 403.3,185 405,187.5 402.5,190.8 401.7,194.2 400,196.7 395.8,197.5 392.5,198.3 393.3,200.8 391.7,202 394.2,205 393.3,207.5 390.8,206.7 388.3,203.3 386.7,200 385,197.5 383.3,195 381.7,191.7 379.2,188.3 375.8,185.8 373.3,183.3 371.7,181.7"/>
<polygon class="b" fill="#E31E24" points="390.8,158.3 396.7,155.8 403.3,157.5 406.7,161.7 405,165.8 400,167.5 395,166.7 391.3,167.5 390.8,165"/>
<polygon class="b" fill="#E31E24" points="391.3,167.5 395,166.7 400,167.5 405,165.8 410,166.7 416.7,168.3 421.7,170.8 425,175 424.2,178.3 419.2,180.8 415,180.8 416.7,183.3 413.3,185 408.3,182.5 405,180.8 402.5,176.7 398.3,175 393.3,175 390,173 391.3,169.2"/>
<polygon class="b" fill="#EF4623" points="402.5,176.7 405,177.5 405.8,180.8 404.2,180.8"/>
<polygon class="b" fill="#F9A11B" points="386.7,145.8 390.8,145 396.3,144.7 397,148 395,149.7 390,150 387,148.7"/>
<polygon class="b" fill="#F47A20" points="385,150.8 387,148.7 390,150 395,149.7 398.3,151.7 397.5,154.7 393.3,154.2 389.2,153.7 385.3,153.7"/>
<polygon class="b" fill="#F47A20" points="385.3,153.7 389.2,153.7 393.3,154.2 397.5,154.7 396.7,158 393.3,160 389.2,159.2 386.3,157.5"/>
<polygon class="b" fill="#E31E24" points="383.3,157 386.3,157.5 386.7,159.2 383.7,159.2"/>
<polygon fill="#fff" points="188,117.5 192,116.3 194.7,120 194.2,124.2 191.3,123.3 188.7,121.7"/>
<polygon fill="#fff" points="170,112.5 175,111.3 178.3,115 176.7,118.7 178.3,122 175,122.7 173,118.3 170,115.8"/>
<polygon fill="#fff" points="200.8,130.8 204.2,127 210,124.7 212.5,126.7 209.2,130.3 205.3,133 202.5,133"/>
<polygon fill="#fff" points="153.3,109.7 163.3,107.5 175,106.7 186.7,106.7 198.3,107.5 206.7,110 220,112 220,113.3 206.7,112 198.3,109.7 186.7,108.7 175,108.7 163.3,109.7 154.2,111.3"/>
<polygon fill="#fff" points="213.3,105.8 221.7,101.7 226.7,100.3 223.3,103.7 218.3,107"/>
<polygon fill="#fff" points="415,305 420,304.5 421.2,308.8 417.5,310.5 414.5,308.8"/>
<polygon fill="#fff" points="419.2,331.7 420.8,332.5 421.7,338.3 423,345 422,347.5 420.8,343.3 419.7,337.5"/>
<polygon fill="#fff" points="558,155.8 561.2,154.8 561.6,160.1 559.5,164.3 556.6,166.4 555.3,164.9 558,161.1"/>
<polygon fill="#fff" points="515.2,209 518.6,208.2 520.3,210.7 519,213.2 516,212.8"/>
<polygon fill="#fff" points="441.7,183.3 444.2,179.2 449.2,178 454.2,179.7 452.5,182.5 450,185 450.8,189.2 454.2,192.5 458.3,194.2 460.8,197.5 460,202.5 455.8,205.3 451.7,204.2 449.2,200.8 448.3,195.8 445.8,191.7 443.3,187.5"/>
<polygon fill="#fff" points="465.8,180 469.2,179.2 470.8,182.5 468.3,185 466.3,183.3"/>
<polygon fill="#fff" points="498.3,180 505,179.3 509.2,180.7 508.7,182.3 504.2,181.3 499.2,182"/>
<polygon fill="#fff" points="148,177.5 151.7,175.3 156.7,175 160,175.8 162.5,178.7 159.2,178.3 155,178 151.7,178.7"/>
<polygon fill="#fff" points="153.3,180.8 155.3,181.7 153.3,187.5 151.3,190.8 150.3,189.7 152,185"/>
<polygon fill="#fff" points="160.8,180 164.2,180 168,183 169.7,185.3 167.5,185.8 164.2,183.3 162.5,185.8 161.3,183.3"/>
<polygon fill="#fff" points="160,192 163.3,190 167.5,188.3 170,187.5 169.7,188.7 165.8,190.3 161.7,193"/>
<polygon fill="#fff" points="170.8,186.3 174.2,185.3 176.7,186 174.7,187.3 171.7,187.5"/>
<polygon fill="#fff" points="122.5,129.5 127.5,128 132.5,130 130,132.5 124.5,132"/>
<polygon fill="#fff" points="123.8,140 130,139 136.2,140 135,142 128.8,141.5 124.2,142"/>
<polygon fill="#fff" points="142,161.2 144,160.8 144.5,170 142.5,170.5"/>
<polyline class="b" fill="none" points="438.7,185.0 439.7,173.3 442.5,168.3 446.7,166.7 451.7,168.0 458.3,166.7 465.0,165.0 466.7,160.8 473.3,159.2 480.0,156.7 485.8,159.2 491.7,160.8 498.3,159.2 503.3,161.7 508.3,166.7 515.0,170.0 520.0,173.3 522.5,173.3 520.0,177.5 515.0,178.7 517.5,183.7"/>
</svg>
<div id="title"><span>MAPA MUNDIAL DE LA CORRUPCIÓN  (IPC 2013)</span></div>
<svg id="logo" width="768" height="60" viewBox="0 0 768 60">
<circle cx="635.7" cy="34" r="11.3" fill="#18469A"/>
<ellipse cx="638" cy="27.7" rx="6" ry="4.2" fill="#fff" transform="rotate(-20 638 27.7)"/>
<circle cx="634.7" cy="28.8" r="1.75" fill="#18469A"/>
<path d="M636.7 36.6 L644.7 34.4 Q646.2 36.2 645 39.6 Q643.2 43.2 639.6 44.2 L636.9 44.5 Z" fill="#fff"/>
<g fill="none" stroke="#fff" stroke-linecap="round">
<path d="M627.3 30 Q628.6 26.4 632.4 24.5" stroke-width=".55"/>
<path d="M632.1 36 L632.3 43" stroke-width=".4" stroke-opacity=".7"/>
<path d="M626.4 34.5 L626.9 38.5" stroke-width=".4" stroke-opacity=".7"/>
</g>
</svg>
<div class="lt" id="l1" style="left:649.2px;top:24.4px;font-size:11.2px;letter-spacing:-.08px;">TRANSPARENCY</div>
<div class="lt" id="l2" style="left:651px;top:34.6px;font-size:11.2px;letter-spacing:-.07px;">INTERNATIONAL</div>
<div class="lt" id="l3" style="left:650.5px;top:45.6px;font-size:5.5px;font-weight:normal;color:#5c6f9a;">the global coalition against corruption</div>
<div class="lt" id="sc" style="left:66px;top:486.2px;font-size:6.4px;color:#2a2a2e;transform:scaleX(.78);">SCORE</div>
<div id="lg"></div>
<div class="sm" style="left:40px;width:22px;top:496.6px;text-align:right;">Highly<br>Corrupt</div>
<div class="sm" style="left:226px;top:496.6px;">Very<br>Clean</div>
<div class="tk" style="left:71.4px">0-9</div><div class="tk" style="left:87.7px">10-19</div><div class="tk" style="left:103.4px">20-29</div><div class="tk" style="left:119px">30-39</div><div class="tk" style="left:134.6px">40-49</div><div class="tk" style="left:151.4px">50-59</div><div class="tk" style="left:167px">60-69</div><div class="tk" style="left:183.2px">70-79</div><div class="tk" style="left:199.4px">80-89</div><div class="tk" style="left:216.6px">90-100</div>
</body></html>
